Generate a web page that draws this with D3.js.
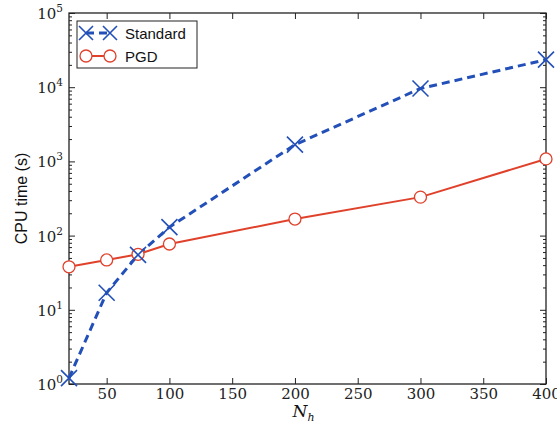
<!DOCTYPE html>
<html><head><meta charset="utf-8">
<script src="https://cdn.jsdelivr.net/npm/d3@7"></script>
<style>body{margin:0;background:#fff}</style>
</head><body>
<svg id="c" width="557" height="425"></svg>
<script>
const nh = [20, 50, 75, 100, 200, 300, 400];
const standard = [1.2, 17, 55, 130, 1680, 9600, 23500];
const pgd = [38, 47, 56, 77, 167, 330, 1080];
const xTicks = [50, 100, 150, 200, 250, 300, 350, 400];
const yTicks = [1, 10, 100, 1000, 10000, 100000];

const svg = d3.select('#c');
const L = 69, R = 546, T = 13, B = 384;
const x = d3.scaleLinear().domain([20, 400]).range([L, R]);
const y = d3.scaleLog().domain([1, 1e5]).range([B, T]);

const blue = '#2350b8', red = '#e0412b';
const serif = 'DejaVu Serif';

// minor ticks
const minor = [];
for (let d = 1; d < 1e5; d *= 10) for (let k = 2; k <= 9; k++) minor.push(d * k);

const g = svg.append('g');
g.append('g').attr('transform', `translate(${L},0)`)
  .call(d3.axisLeft(y).tickValues(minor).tickSize(-3).tickFormat(''))
  .call(a => a.select('.domain').remove());
g.append('g').attr('transform', `translate(${L},0)`)
  .call(d3.axisLeft(y).tickValues(yTicks).tickSize(-6).tickFormat(''))
  .call(a => a.select('.domain').remove());
g.append('g').attr('transform', `translate(${R},0)`)
  .call(d3.axisRight(y).tickValues(minor).tickSize(-3).tickFormat(''))
  .call(a => a.select('.domain').remove());
g.append('g').attr('transform', `translate(${R},0)`)
  .call(d3.axisRight(y).tickValues(yTicks).tickSize(-6).tickFormat(''))
  .call(a => a.select('.domain').remove());
g.append('g').attr('transform', `translate(0,${B})`)
  .call(d3.axisBottom(x).tickValues(xTicks).tickSize(-6).tickPadding(4).tickFormat(d3.format('d')))
  .call(a => a.select('.domain').remove())
  .call(a => a.selectAll('text').attr('font-family', serif).attr('font-size', 15).attr('fill', '#222'));
g.append('g').attr('transform', `translate(0,${T})`)
  .call(d3.axisTop(x).tickValues(xTicks).tickSize(-6).tickFormat(''))
  .call(a => a.select('.domain').remove());
g.selectAll('.tick line').attr('stroke', '#222').attr('stroke-width', 1);

yTicks.forEach(v => {
  const t = svg.append('text').attr('x', L - 6).attr('y', y(v) + 6)
    .attr('text-anchor', 'end').attr('font-family', serif).attr('font-size', 15).attr('fill', '#222');
  t.append('tspan').text('10');
  t.append('tspan').attr('dy', -7).attr('font-size', 10.5).text(Math.round(Math.log10(v)));
});

svg.append('rect').attr('x', L).attr('y', T).attr('width', R - L).attr('height', B - T)
  .attr('fill', 'none').attr('stroke', '#222').attr('stroke-width', 1.3);

const line = d3.line().x(d => x(d[0])).y(d => y(d[1]));
const sData = nh.map((n, i) => [n, standard[i]]);
const pData = nh.map((n, i) => [n, pgd[i]]);

const plot = svg.append('g');
plot.append('path').attr('d', line(pData)).attr('fill', 'none').attr('stroke', red).attr('stroke-width', 2);
plot.append('path').attr('d', line(sData)).attr('fill', 'none').attr('stroke', blue)
  .attr('stroke-width', 3).attr('stroke-dasharray', '8,5');

function cross(sel, cx, cy, s) {
  sel.append('path').attr('d', `M${cx - s},${cy - s}L${cx + s},${cy + s}M${cx - s},${cy + s}L${cx + s},${cy - s}`)
    .attr('stroke', blue).attr('stroke-width', 1.6).attr('fill', 'none');
}
function circ(sel, cx, cy) {
  sel.append('circle').attr('cx', cx).attr('cy', cy).attr('r', 6)
    .attr('fill', '#fff').attr('stroke', red).attr('stroke-width', 1.3);
}
pData.forEach(d => circ(plot, x(d[0]), y(d[1])));
sData.forEach(d => cross(plot, x(d[0]), y(d[1]), 8));

const lg = svg.append('g');
lg.append('rect').attr('x', 77).attr('y', 21).attr('width', 120).attr('height', 47)
  .attr('fill', '#fff').attr('stroke', '#222').attr('stroke-width', 1);
lg.append('line').attr('x1', 86).attr('x2', 110).attr('y1', 33).attr('y2', 33)
  .attr('stroke', blue).attr('stroke-width', 3).attr('stroke-dasharray', '8,5');
cross(lg, 86, 33, 7); cross(lg, 110, 33, 7);
lg.append('line').attr('x1', 86).attr('x2', 110).attr('y1', 56).attr('y2', 56)
  .attr('stroke', red).attr('stroke-width', 2);
circ(lg, 86, 56); circ(lg, 110, 56);
lg.append('text').attr('x', 125).attr('y', 39).attr('font-family', 'Liberation Sans').attr('font-size', 15).attr('fill', '#111').text('Standard');
lg.append('text').attr('x', 125).attr('y', 62).attr('font-family', 'Liberation Sans').attr('font-size', 15).attr('fill', '#111').text('PGD');

svg.append('text').attr('transform', `translate(27,${(T + B) / 2}) rotate(-90)`)
  .attr('text-anchor', 'middle').attr('font-family', 'Liberation Sans').attr('font-size', 16).attr('fill', '#111').text('CPU time (s)');
const xl = svg.append('text').attr('x', (L + R) / 2 - 4).attr('y', 417).attr('text-anchor', 'middle')
  .attr('font-family', serif).attr('font-style', 'italic').attr('font-size', 17).attr('fill', '#111');
xl.append('tspan').text('N');
xl.append('tspan').attr('dy', 4).attr('font-size', 11).text('h');
</script>
</body></html>
